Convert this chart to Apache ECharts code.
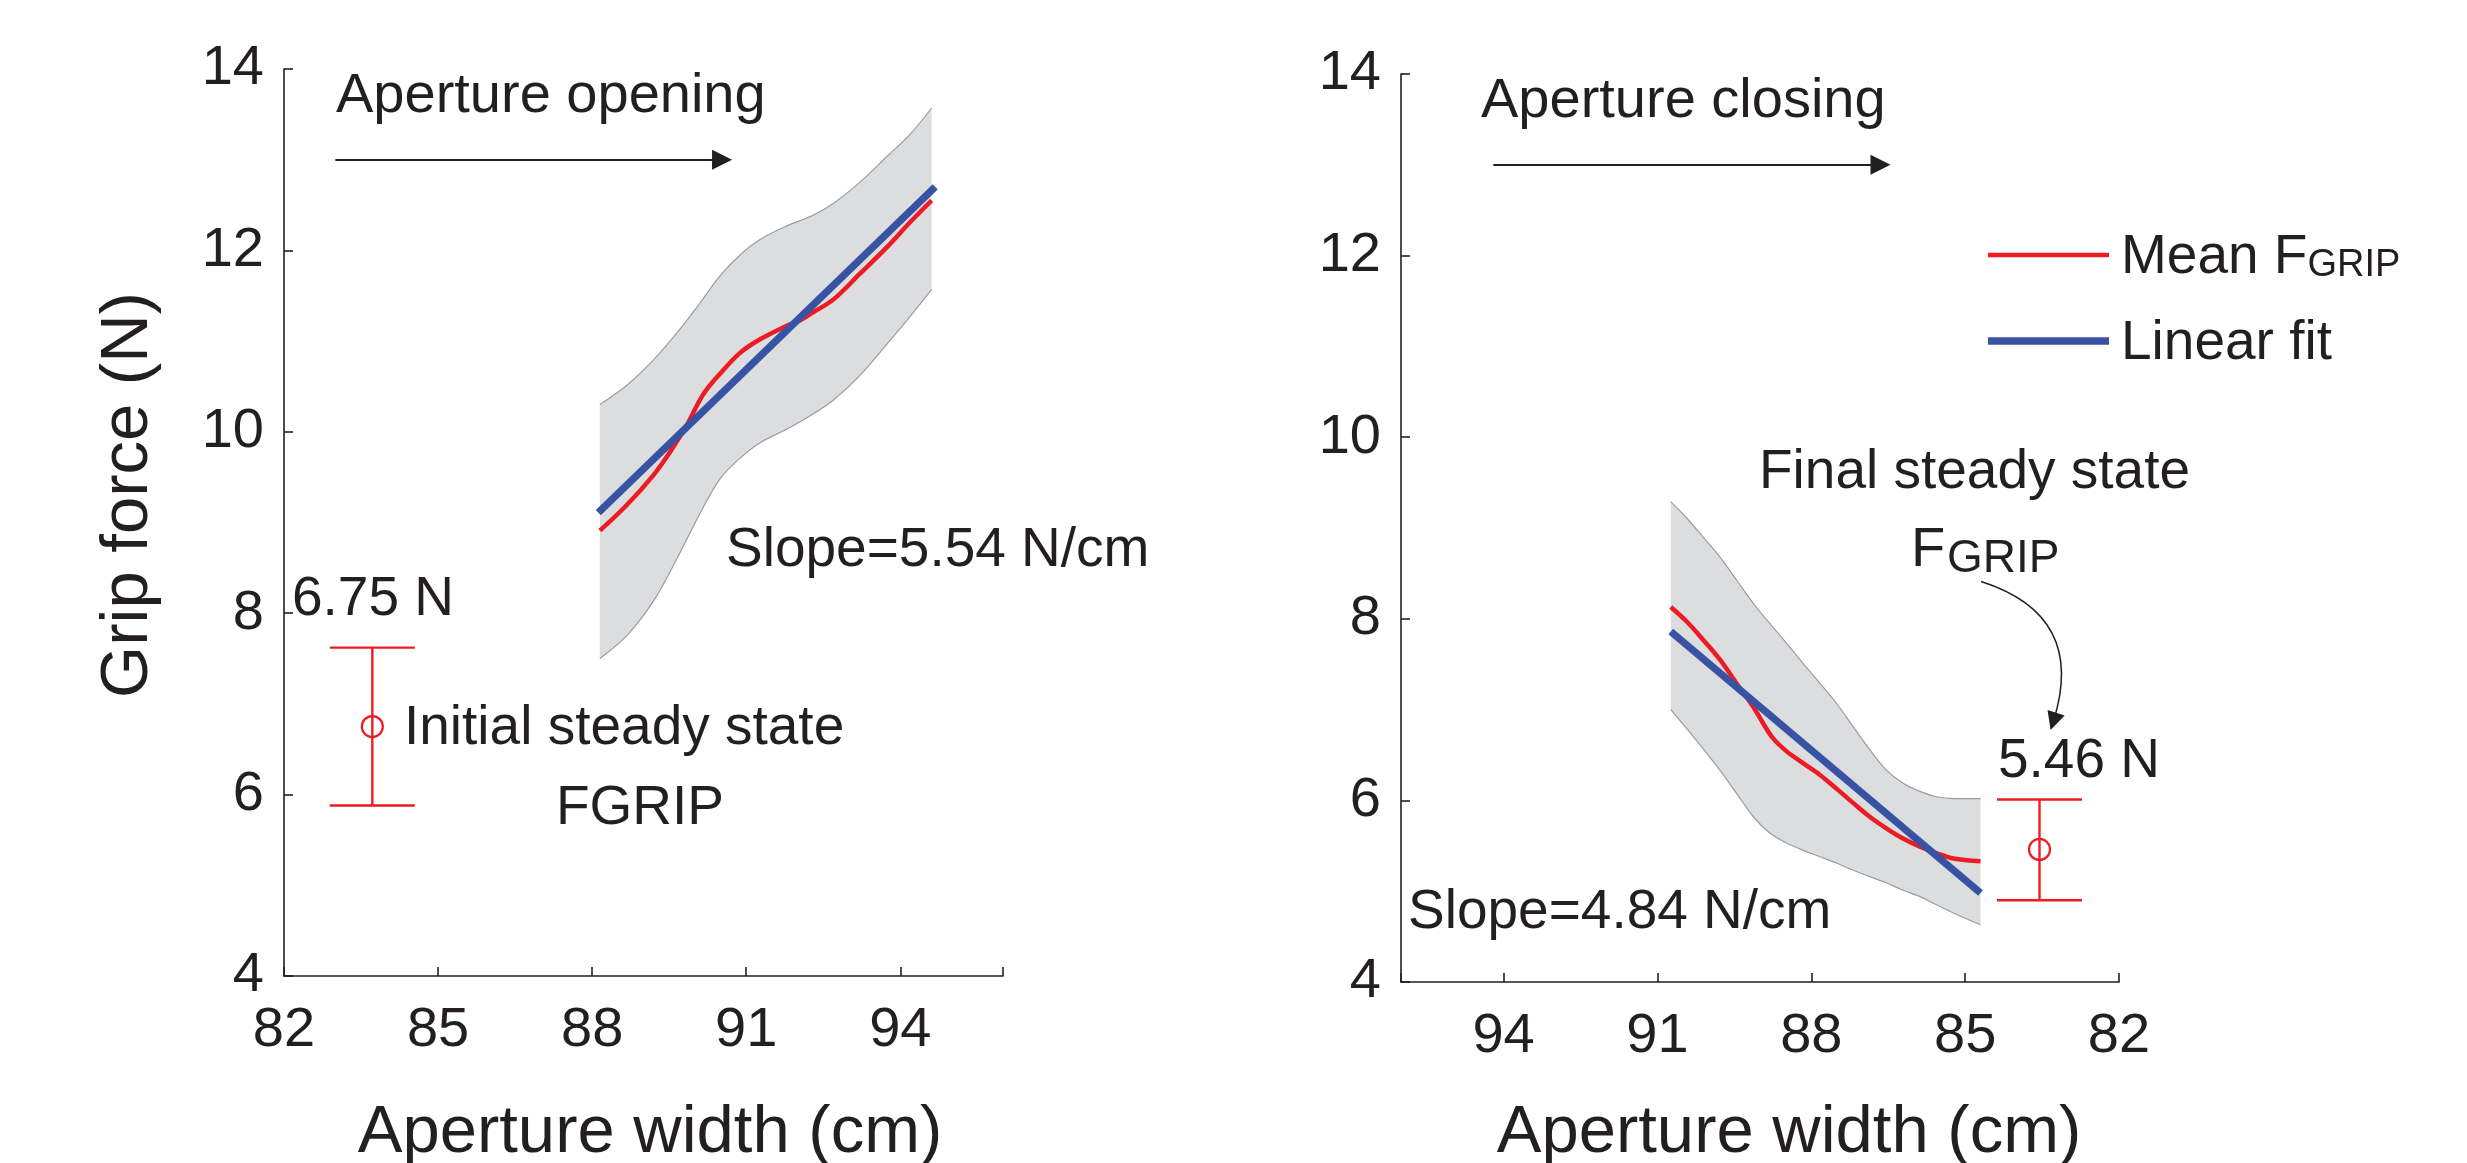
<!DOCTYPE html>
<html>
<head>
<meta charset="utf-8">
<title>Grip force vs aperture width</title>
<script src="https://cdn.jsdelivr.net/npm/echarts@6/dist/echarts.min.js"></script>
<style>
  html, body { margin: 0; padding: 0; background: #fff; }
  #chart { width: 2467px; height: 1163px; }
</style>
</head>
<body>
<div id="chart"></div>
<script>
// values

// left panel: aperture opening
const openBandX    = [88.15, 88.67, 89.19, 89.65, 90.10, 90.49, 90.88, 91.27, 91.79, 92.31, 92.70, 93.21, 93.73, 94.19, 94.61];
const openBandHigh = [10.30, 10.51, 10.79, 11.09, 11.42, 11.72, 11.95, 12.12, 12.27, 12.39, 12.52, 12.75, 13.03, 13.28, 13.57];
const openBandLow  = [7.50, 7.75, 8.13, 8.60, 9.10, 9.48, 9.71, 9.88, 10.03, 10.20, 10.35, 10.62, 10.96, 11.27, 11.57];
const openMeanX = [88.15, 88.67, 89.19, 89.52, 89.84, 90.16, 90.49, 90.88, 91.27, 91.79, 92.05, 92.31, 92.70, 93.21, 93.73, 94.19, 94.61];
const openMeanY = [8.91, 9.19, 9.52, 9.78, 10.07, 10.41, 10.64, 10.87, 11.02, 11.17, 11.23, 11.32, 11.46, 11.74, 12.03, 12.31, 12.55];
const openFitX = [88.12, 94.68];
const openFitY = [9.11, 12.70];
const initialBar = [83.72, 6.75, 5.88, 7.62];   // x, mean, low, high

// right panel: aperture closing
const closeBandX    = [90.74, 90.43, 90.11, 89.78, 89.46, 89.13, 88.81, 88.48, 88.16, 87.83, 87.51, 87.18, 86.86, 86.53, 86.21, 85.88, 85.56, 85.23, 84.70];
const closeBandHigh = [9.29, 9.11, 8.90, 8.68, 8.43, 8.17, 7.95, 7.73, 7.51, 7.29, 7.07, 6.81, 6.56, 6.33, 6.19, 6.10, 6.04, 6.02, 6.02];
const closeBandLow  = [7.00, 6.79, 6.57, 6.33, 6.08, 5.82, 5.64, 5.53, 5.45, 5.38, 5.31, 5.23, 5.16, 5.09, 5.01, 4.94, 4.85, 4.76, 4.63];
const closeMeanX = [90.74, 90.43, 90.11, 89.78, 89.46, 89.13, 88.94, 88.74, 88.48, 88.16, 87.83, 87.51, 87.18, 86.86, 86.53, 86.21, 85.88, 85.56, 85.23, 84.70];
const closeMeanY = [8.13, 7.97, 7.77, 7.55, 7.29, 7.03, 6.85, 6.68, 6.54, 6.41, 6.28, 6.13, 5.97, 5.82, 5.69, 5.58, 5.49, 5.42, 5.36, 5.33];
const closeFitX = [90.74, 84.70];
const closeFitY = [7.86, 4.98];
const finalBar = [83.55, 5.46, 4.90, 6.01];

// ticks
const xTickValues  = [82, 85, 88, 91, 94, 96];
const xLabelValues = [82, 85, 88, 91, 94];
const yTickValues  = [4, 6, 8, 10, 12, 14];

const INK = '#231f20';
const RED = '#ed1c24';
const BLUE = '#3853a4';
const BAND = '#dcdddf';
const BAND_EDGE = '#9c9c9c';
const FONT = '"Liberation Sans", Arial, Helvetica, sans-serif';

const zip = (xs, ys) => xs.map((x, i) => [x, ys[i]]);

function xAxisFor(k, inverse, gap, shift) {
  return {
    gridIndex: k, type: 'value', min: 82, max: 96, interval: 3, inverse: inverse,
    axisLine: { show: true, onZero: false, lineStyle: { color: INK, width: 1.6 } },
    axisTick: { show: true, inside: true, length: 9, lineStyle: { color: INK, width: 1.6 }, customValues: xTickValues },
    axisLabel: { show: true, customValues: xLabelValues, margin: 27, color: INK, fontSize: 56, lineHeight: 56, fontFamily: FONT },
    splitLine: { show: false },
    name: 'Aperture width (cm)', nameLocation: 'middle', nameGap: gap,
    nameTextStyle: { color: INK, fontSize: 67, lineHeight: 67, fontFamily: FONT, padding: [0, 0, 0, shift] }
  };
}

function yAxisFor(k, withName) {
  return {
    gridIndex: k, type: 'value', min: 4, max: 14, interval: 2,
    axisLine: { show: true, onZero: false, lineStyle: { color: INK, width: 1.6 } },
    axisTick: { show: true, inside: true, length: 9, lineStyle: { color: INK, width: 1.6 }, customValues: yTickValues },
    axisLabel: { show: true, customValues: yTickValues, margin: 20, color: INK, fontSize: 56, lineHeight: 56, fontFamily: FONT, padding: [0, 0, 12, 0] },
    splitLine: { show: false },
    name: withName ? 'Grip force (N)' : '', nameLocation: 'middle', nameGap: 122,
    nameTextStyle: { color: INK, fontSize: 67, lineHeight: 67, fontFamily: FONT, padding: [0, 0, 0, 55] }
  };
}

function errorBar(k, bar) {
  return {
    type: 'custom', xAxisIndex: k, yAxisIndex: k, silent: true,
    data: [bar], encode: { x: 0, y: [1, 2, 3] },
    renderItem(params, api) {
      const x = api.value(0);
      const c = api.coord([x, api.value(1)]);
      const lo = api.coord([x, api.value(2)]);
      const hi = api.coord([x, api.value(3)]);
      const st = { stroke: RED, lineWidth: 2.4, fill: null };
      return {
        type: 'group',
        children: [
          { type: 'line', shape: { x1: lo[0], y1: lo[1], x2: hi[0], y2: hi[1] }, style: st },
          { type: 'line', shape: { x1: hi[0] - 42.5, y1: hi[1], x2: hi[0] + 42.5, y2: hi[1] }, style: st },
          { type: 'line', shape: { x1: lo[0] - 42.5, y1: lo[1], x2: lo[0] + 42.5, y2: lo[1] }, style: st },
          { type: 'circle', shape: { cx: c[0], cy: c[1], r: 10.5 }, style: { stroke: RED, lineWidth: 2.2, fill: null } }
        ]
      };
    }
  };
}

function panelSeries(k, bandX, low, high, meanX, meanY, fitX, fitY) {
  const stack = 'band' + k;
  // value first, x second: with two value axes ECharts stacks the first dimension
  return [
    {
      name: 'band-low', type: 'line', xAxisIndex: k, yAxisIndex: k, stack: stack,
      data: bandX.map((x, i) => [low[i], x]), encode: { x: 1, y: 0 },
      smooth: 0.35, symbol: 'none', silent: true,
      lineStyle: { color: BAND_EDGE, width: 1.2 }
    },
    {
      name: 'band-high', type: 'line', xAxisIndex: k, yAxisIndex: k, stack: stack,
      data: bandX.map((x, i) => [high[i] - low[i], x]), encode: { x: 1, y: 0 },
      smooth: 0.35, symbol: 'none', silent: true,
      lineStyle: { color: BAND_EDGE, width: 1.2 },
      areaStyle: { color: BAND, opacity: 1 }
    },
    {
      name: 'Mean FGRIP', type: 'line', xAxisIndex: k, yAxisIndex: k,
      data: zip(meanX, meanY), smooth: 0.35, symbol: 'none', color: RED,
      lineStyle: { color: RED, width: 4.5 }
    },
    {
      name: 'Linear fit', type: 'line', xAxisIndex: k, yAxisIndex: k,
      data: zip(fitX, fitY), symbol: 'none', color: BLUE,
      lineStyle: { color: BLUE, width: 7.3 }
    }
  ];
}

function arrowSeries(k, coords, curve, size, width) {
  return {
    type: 'lines', coordinateSystem: 'cartesian2d', xAxisIndex: k, yAxisIndex: k, silent: true,
    symbol: ['none', 'triangle'], symbolSize: size,
    lineStyle: { color: INK, width: width, curveness: curve, opacity: 1 },
    itemStyle: { color: INK },
    data: [{ coords: coords }]
  };
}

function txt(x, base, text, size, align) {
  return {
    type: 'text', x: x, y: base - 0.245 * size, silent: true,
    style: { text: text, fill: INK, font: size + 'px ' + FONT, align: align || 'left', verticalAlign: 'middle', lineHeight: size }
  };
}

const chart = echarts.init(document.getElementById('chart'), null, { renderer: 'canvas' });

chart.setOption({
  backgroundColor: '#fff',
  animation: false,
  grid: [
    { left: 284, top: 69, width: 719, height: 907, outerBoundsMode: 'none', containLabel: false },
    { left: 1401, top: 74, width: 718, height: 908, outerBoundsMode: 'none', containLabel: false }
  ],
  xAxis: [xAxisFor(0, false, 124, 13), xAxisFor(1, true, 118, 58)],
  yAxis: [yAxisFor(0, true), yAxisFor(1, false)],
  legend: {
    left: 1988, top: 230, orient: 'vertical', padding: 0, itemGap: 31,
    itemWidth: 121, itemHeight: 8, selectedMode: false,
    itemStyle: { borderWidth: 0 },
    data: [
      { name: 'Mean FGRIP', icon: 'path://M0,0L0,8M0,1.75L121,1.75L121,6.25L0,6.25Z' },
      { name: 'Linear fit', icon: 'path://M0,0L0,8M0,0.35L121,0.35L121,7.65L0,7.65Z' }
    ],
    formatter: n => n === 'Mean FGRIP' ? '{a|Mean F}{b|GRIP}' : '{a|' + n + '}',
    textStyle: {
      color: INK,
      rich: {
        a: { fontSize: 55, lineHeight: 60, fontFamily: FONT, color: INK, verticalAlign: 'bottom', padding: [0, 0, 0, 7] },
        b: { fontSize: 38, lineHeight: 34, fontFamily: FONT, color: INK, verticalAlign: 'bottom' }
      }
    }
  },
  series: [
    ...panelSeries(0, openBandX, openBandLow, openBandHigh, openMeanX, openMeanY, openFitX, openFitY),
    ...panelSeries(1, closeBandX, closeBandLow, closeBandHigh, closeMeanX, closeMeanY, closeFitX, closeFitY),
    errorBar(0, initialBar),
    errorBar(1, finalBar),
    arrowSeries(0, [[83.0, 13.0], [90.53, 13.0]], 0, [21, 20], 2),
    arrowSeries(1, [[94.2, 13.0], [86.65, 13.0]], 0, [21, 20], 2),
    arrowSeries(1, [[84.69, 8.41], [83.28, 6.87]], 0.5, [16, 18], 1.5)
  ],
  graphic: [
    txt(336, 110, 'Aperture opening', 56),
    txt(292, 613, '6.75 N', 55),
    txt(404, 742, 'Initial steady state', 55),
    txt(640, 822, 'FGRIP', 55, 'center'),
    txt(726, 564, 'Slope=5.54 N/cm', 55),
    txt(1481, 115, 'Aperture closing', 56),
    txt(1759, 486, 'Final steady state', 55),
    txt(1911, 564, 'F', 56),
    txt(1947, 571, 'GRIP', 46),
    txt(1998, 775, '5.46 N', 55),
    txt(1408, 926, 'Slope=4.84 N/cm', 55)
  ]
});
</script>
</body>
</html>
